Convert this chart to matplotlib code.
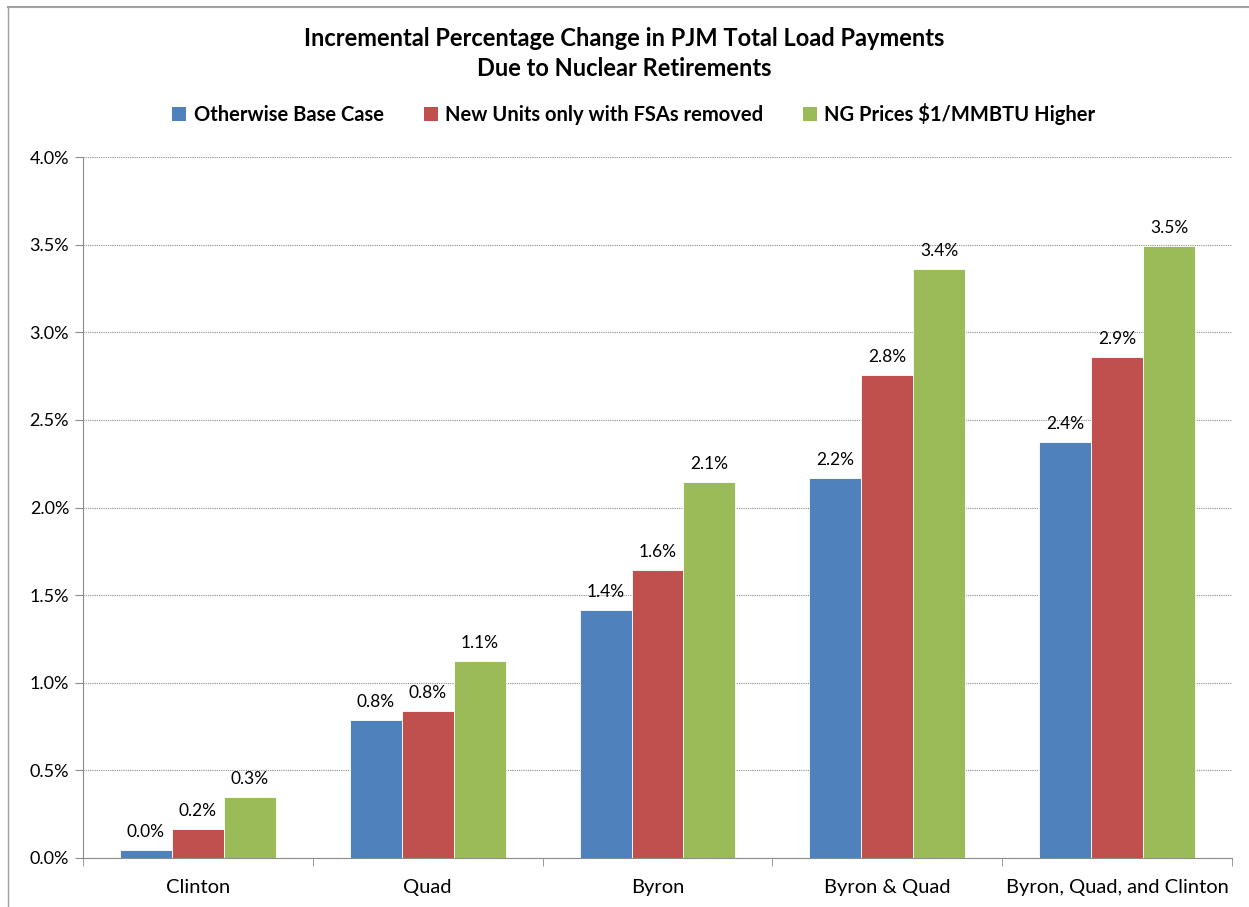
import matplotlib

matplotlib.use("Agg")
import matplotlib.pyplot as plt
import numpy as np
from matplotlib.lines import Line2D
from matplotlib.patches import Patch

plt.rcParams["font.family"] = ["Lato", "DejaVu Sans"]

# ---------------------------------------------------------------------------
# Data (percent change in total load payments).
# ---------------------------------------------------------------------------
categories = ["Clinton", "Quad", "Byron", "Byron & Quad", "Byron, Quad, and Clinton"]
series_names = ["Otherwise Base Case", "New Units only with FSAs removed",
                "NG Prices $1/MMBTU Higher"]
base_case = [0.046, 0.787, 1.415, 2.168, 2.374]
fsa_removed = [0.165, 0.839, 1.643, 2.756, 2.859]
ng_higher = [0.348, 1.124, 2.145, 3.361, 3.492]
colors = ["#4F81BD", "#C0504D", "#9BBB59"]

fig = plt.figure(figsize=(12.49, 9.07), dpi=100)
ax = fig.add_axes([83 / 1249, 1 - 858 / 907, (1232 - 83) / 1249, (858 - 157) / 907])

x = np.arange(len(categories))
width = 0.226
for i, (vals, col) in enumerate(zip([base_case, fsa_removed, ng_higher], colors)):
    pos = x + (i - 1) * width
    bars = ax.bar(pos, vals, width, color=col, edgecolor="white", linewidth=0.6, zorder=3)
    for b, v in zip(bars, vals):
        ax.annotate(f"{v:.1f}%", (b.get_x() + b.get_width() / 2, v),
                    xytext=(0, 7), textcoords="offset points",
                    ha="center", va="bottom", fontsize=12.5)

ax.set_xlim(-0.5, len(categories) - 0.5)
ax.set_ylim(0, 4.0)
ax.set_yticks(np.arange(0, 4.01, 0.5))
ax.set_yticklabels([f"{t:.1f}%" for t in np.arange(0, 4.01, 0.5)], fontsize=13)
ax.yaxis.grid(True, linestyle=(0, (1, 1)), color="#8c8c8c", linewidth=0.8, zorder=0)

ax.set_xticks(x)
ax.set_xticklabels(categories, fontsize=14.5)
ax.set_xticks(np.arange(-0.5, len(categories)), minor=True)
ax.tick_params(axis="x", which="major", length=0, pad=15)
ax.tick_params(axis="x", which="minor", length=6, color="#8c8c8c")
ax.tick_params(axis="y", length=6, color="#8c8c8c", pad=4)

for side in ["top", "right"]:
    ax.spines[side].set_visible(False)
for side in ["left", "bottom"]:
    ax.spines[side].set_color("#8c8c8c")

fig.text(0.5, 1 - 38 / 907, "Incremental Percentage Change in PJM Total Load Payments",
         ha="center", va="center", fontsize=17, fontweight="bold")
fig.text(0.5, 1 - 68 / 907, "Due to Nuclear Retirements",
         ha="center", va="center", fontsize=17, fontweight="bold")

handles = [Patch(facecolor=c, edgecolor="none") for c in colors]
fig.legend(handles, series_names, ncol=3, loc="center",
           bbox_to_anchor=(634 / 1249, 1 - 114 / 907), frameon=False,
           prop={"weight": "bold", "size": 14.5},
           handlelength=0.7, handleheight=0.7, handletextpad=0.35,
           columnspacing=2.0)

# chart border (top and left edges visible)
fig.add_artist(Line2D([8 / 1249, 1], [1 - 7 / 907, 1 - 7 / 907],
                      transform=fig.transFigure, color="#a0a0a0", linewidth=1.5))
fig.add_artist(Line2D([8 / 1249, 8 / 1249], [0, 1 - 7 / 907],
                      transform=fig.transFigure, color="#a0a0a0", linewidth=1.0))

fig.savefig("out.png", dpi=100)
